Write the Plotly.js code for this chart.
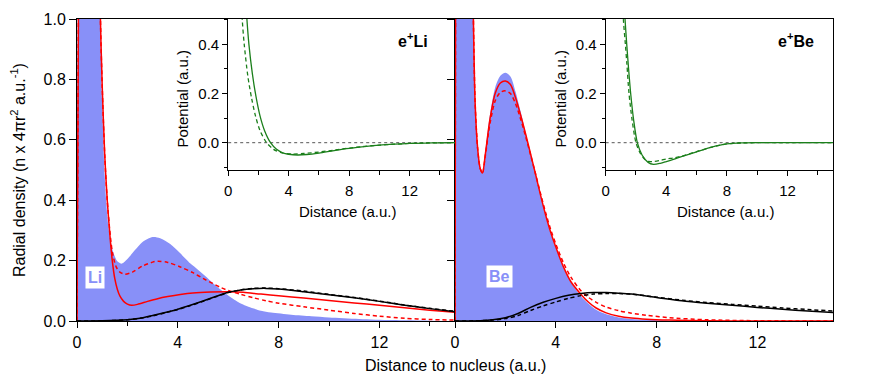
<!DOCTYPE html>
<html><head><meta charset="utf-8">
<script src="https://cdn.plot.ly/plotly-3.0.1.min.js"></script>
<style>html,body{margin:0;padding:0;background:#fff;} #chart{width:872px;height:376px;}</style>
</head><body><div id="chart"></div>
<script>
// ---- Li main panel (radial densities) ----
const rLiFill = [0, 0.02, 0.04, 0.1, 0.2, 0.35, 0.5, 0.7, 0.85, 0.92, 1.0, 1.1, 1.2, 1.3, 1.45, 1.6, 1.78, 2.0, 2.3, 2.6, 3.0, 3.3, 3.7, 4.1, 4.5, 4.8, 5.1, 5.4, 5.8, 6.1, 6.5, 6.8, 7.3, 7.7, 8.5, 9.3, 10, 11.2, 12.5, 14, 15];
const liFill  = [0, 0.6, 1.3, 3.0, 4.6, 5.0, 4.2, 2.6, 1.45, 1.0, 0.72, 0.48, 0.35, 0.28, 0.225, 0.198, 0.19, 0.205, 0.235, 0.262, 0.278, 0.274, 0.255, 0.224, 0.19, 0.17, 0.148, 0.125, 0.097, 0.079, 0.058, 0.047, 0.034, 0.028, 0.021, 0.016, 0.012, 0.007, 0.003, 0.001, 0];

const rLiRed = [0, 0.03, 0.06, 0.1, 0.2, 0.35, 0.5, 0.7, 0.85, 0.93, 1.0, 1.1, 1.2, 1.3, 1.4, 1.5, 1.6, 1.7, 1.85, 2.0, 2.17, 2.4, 2.8, 3.2, 3.6, 4.1, 4.6, 5.3, 6.0, 6.6, 7.3, 8.0, 9.0, 10, 11, 12, 13, 14, 15];
const liRed  = [0, 0.55, 1.1, 2.6, 4.4, 4.9, 4.1, 2.6, 1.5, 1.0, 0.78, 0.55, 0.4, 0.29, 0.2, 0.14, 0.105, 0.083, 0.065, 0.056, 0.052, 0.055, 0.065, 0.074, 0.081, 0.088, 0.093, 0.096, 0.097, 0.095, 0.089, 0.084, 0.076, 0.068, 0.06, 0.052, 0.044, 0.036, 0.029];

const rLiRedD = [0, 0.03, 0.06, 0.1, 0.2, 0.35, 0.5, 0.7, 0.85, 0.93, 1.0, 1.1, 1.2, 1.3, 1.4, 1.55, 1.7, 1.9, 2.2, 2.6, 3.0, 3.2, 3.6, 4.1, 4.6, 5.0, 5.7, 6.0, 6.5, 7.0, 7.5, 8, 9, 10, 11, 12, 13, 14, 15];
const liRedD  = [0, 0.55, 1.1, 2.6, 4.4, 4.9, 4.1, 2.6, 1.5, 1.0, 0.78, 0.55, 0.4, 0.3, 0.23, 0.18, 0.162, 0.155, 0.162, 0.182, 0.195, 0.198, 0.194, 0.179, 0.16, 0.141, 0.111, 0.101, 0.088, 0.077, 0.067, 0.059, 0.047, 0.036, 0.025, 0.016, 0.009, 0.005, 0.003];

const rLiPos = [0, 1, 2, 2.5, 3, 3.5, 4, 4.5, 5, 5.5, 6, 6.5, 7, 7.5, 8, 9, 10, 11, 12, 13, 14, 15];
const liPos  = [0, 0.0005, 0.004, 0.009, 0.018, 0.028, 0.039, 0.052, 0.066, 0.081, 0.095, 0.103, 0.107, 0.108, 0.106, 0.097, 0.087, 0.077, 0.065, 0.052, 0.041, 0.031];
const liPosD = [0, 0.0005, 0.004, 0.009, 0.017, 0.027, 0.038, 0.051, 0.065, 0.08, 0.094, 0.103, 0.108, 0.109, 0.107, 0.099, 0.088, 0.078, 0.066, 0.053, 0.042, 0.032];

// ---- Be main panel ----
const rBe = [0, 0.015, 0.03, 0.1, 0.25, 0.45, 0.6, 0.68, 0.73, 0.8, 0.9, 1.0, 1.09, 1.2, 1.39, 1.6, 1.8, 2.0, 2.2, 2.4, 2.6, 2.8, 3.0, 3.2, 3.4, 3.6, 3.8, 4.0, 4.3, 4.6, 5.0, 5.3, 5.6, 6.0, 6.5, 7.0, 7.6, 8.5, 10, 12, 15];
const beFill = [0, 0.6, 1.4, 4, 6.5, 4, 2.0, 1.35, 1.0, 0.72, 0.57, 0.51, 0.494, 0.56, 0.685, 0.775, 0.812, 0.822, 0.81, 0.76, 0.695, 0.625, 0.553, 0.482, 0.412, 0.348, 0.29, 0.243, 0.178, 0.128, 0.082, 0.057, 0.037, 0.022, 0.012, 0.007, 0.004, 0.001, 0, 0, 0];
const beRed  = [0, 0.7, 1.5, 4, 6.5, 4, 2.0, 1.35, 1.0, 0.72, 0.57, 0.505, 0.49, 0.55, 0.67, 0.755, 0.788, 0.795, 0.783, 0.74, 0.683, 0.62, 0.553, 0.485, 0.415, 0.35, 0.293, 0.245, 0.18, 0.13, 0.088, 0.062, 0.043, 0.027, 0.016, 0.01, 0.006, 0.003, 0.001, 0, 0];
const beRedD = [0, 0.7, 1.5, 4, 6.5, 4, 2.0, 1.35, 1.0, 0.72, 0.57, 0.505, 0.49, 0.545, 0.655, 0.73, 0.757, 0.762, 0.753, 0.72, 0.67, 0.612, 0.55, 0.486, 0.42, 0.358, 0.302, 0.255, 0.193, 0.145, 0.1, 0.078, 0.062, 0.046, 0.034, 0.026, 0.019, 0.011, 0.004, 0.001, 0];

const rBePos = [0, 1, 1.5, 2, 2.5, 3, 3.5, 4, 4.5, 5, 5.5, 6, 6.5, 7, 8, 9, 10, 11, 12, 13, 14, 15];
const bePos  = [0, 0.001, 0.004, 0.011, 0.025, 0.045, 0.062, 0.075, 0.085, 0.091, 0.094, 0.094, 0.092, 0.089, 0.078, 0.067, 0.059, 0.052, 0.045, 0.039, 0.033, 0.028];
const bePosD = [0, 0.001, 0.003, 0.008, 0.018, 0.035, 0.05, 0.063, 0.075, 0.084, 0.089, 0.091, 0.091, 0.089, 0.079, 0.069, 0.061, 0.055, 0.049, 0.043, 0.038, 0.033];

// ---- insets: potentials ----
const rLiV  = [0.8, 1.0, 1.24, 1.37, 1.6, 1.83, 2.1, 2.4, 2.8, 3.2, 3.6, 4.0, 4.6, 5.2, 6.0, 7.0, 8.0, 9.0, 10, 11, 12, 13, 14, 15];
const liV   = [1.2, 0.75, 0.5, 0.4, 0.28, 0.19, 0.11, 0.05, 0.0, -0.027, -0.041, -0.047, -0.050, -0.048, -0.042, -0.032, -0.023, -0.016, -0.010, -0.006, -0.003, -0.0015, -0.0005, 0];
const rLiVD = [0.6, 0.8, 0.93, 1.06, 1.3, 1.55, 1.8, 2.1, 2.54, 3.0, 3.5, 4.2, 5.0, 6.0, 7.0, 8.0, 9.0, 10, 11, 12, 13, 14, 15];
const liVD  = [1.0, 0.68, 0.5, 0.4, 0.27, 0.18, 0.11, 0.05, 0.0, -0.027, -0.040, -0.046, -0.044, -0.038, -0.030, -0.022, -0.015, -0.010, -0.006, -0.003, -0.0015, -0.0005, 0];

const rBeV  = [0.9, 1.1, 1.28, 1.39, 1.5, 1.65, 1.85, 2.09, 2.4, 2.8, 3.15, 3.6, 4.0, 4.47, 5.0, 6.0, 7.0, 8.0, 9.0, 10, 12, 15];
const beV   = [1.1, 0.7, 0.5, 0.4, 0.31, 0.2, 0.09, 0.0, -0.05, -0.08, -0.088, -0.084, -0.077, -0.068, -0.057, -0.037, -0.018, -0.005, -0.001, 0, 0, 0];
const rBeVD = [0.8, 1.0, 1.17, 1.3, 1.4, 1.54, 1.75, 2.0, 2.3, 2.6, 2.82, 3.2, 3.6, 4.0, 4.47, 5.0, 6.0, 7.0, 8.0, 9.0, 10, 12, 15];
const beVD  = [1.1, 0.7, 0.5, 0.4, 0.32, 0.2, 0.09, 0.0, -0.045, -0.068, -0.076, -0.076, -0.072, -0.066, -0.062, -0.055, -0.036, -0.018, -0.005, -0.001, 0, 0, 0];

const FILL = '#8890f8', RED = '#ff0000', GREEN = '#1b7f1b';
const FONT = 'Liberation Sans, Arial, sans-serif';
const DASH = '4px,3px';

function ln(x, y, xa, ya, color, dash, fill) {
  const t = {x: x, y: y, xaxis: xa, yaxis: ya, type: 'scatter', mode: 'lines', hoverinfo: 'skip',
    line: {color: color, width: fill ? 0 : (color === GREEN ? 1.3 : 1.5), dash: dash || 'solid', shape: 'spline', smoothing: 0.8}};
  if (fill) { t.fill = 'tozeroy'; t.fillcolor = FILL; }
  return t;
}
const data = [
  ln(rLiFill, liFill, 'x', 'y', FILL, null, true),
  ln(rLiRedD, liRedD, 'x', 'y', RED, DASH),
  ln(rLiRed, liRed, 'x', 'y', RED),
  ln(rLiPos, liPosD, 'x', 'y', 'black', DASH),
  ln(rLiPos, liPos, 'x', 'y', 'black'),
  ln(rBe, beFill, 'x2', 'y2', FILL, null, true),
  ln(rBe, beRedD, 'x2', 'y2', RED, DASH),
  ln(rBe, beRed, 'x2', 'y2', RED),
  ln(rBePos, bePosD, 'x2', 'y2', 'black', DASH),
  ln(rBePos, bePos, 'x2', 'y2', 'black'),
  ln(rLiVD, liVD, 'x3', 'y3', GREEN, DASH),
  ln(rLiV, liV, 'x3', 'y3', GREEN),
  ln(rBeVD, beVD, 'x4', 'y4', GREEN, DASH),
  ln(rBeV, beV, 'x4', 'y4', GREEN)
];

function xAx(domain, anchor, inset) {
  return {domain: domain, anchor: anchor, range: [0, 15], tick0: 0, dtick: 4, ticks: 'outside', ticklen: inset ? 5 : 6,
    tickcolor: 'black', tickwidth: 1, showline: true, linecolor: 'black', linewidth: 1, mirror: !inset,
    showgrid: false, zeroline: false, tickfont: {size: inset ? 15 : 16, color: 'black'}, ticklabelstandoff: inset ? 2 : 1,
    minor: {tick0: 0, dtick: 2, ticks: 'outside', ticklen: 4, tickcolor: 'black', showgrid: false}};
}
function yInset(anchor) {
  return {domain: [0.5, 1], anchor: anchor, range: [-0.111, 0.503], tick0: 0, dtick: 0.2, tickformat: '.1f', ticks: 'outside', ticklen: 5,
    tickcolor: 'black', showline: true, linecolor: 'black', linewidth: 1, showgrid: false, zeroline: false, tickfont: {size: 15},
    minor: {tick0: 0, dtick: 0.1, ticks: 'outside', ticklen: 3, tickcolor: 'black', showgrid: false}};
}
const layout = {
  width: 872, height: 376, margin: {l: 77, r: 39, t: 19, b: 55}, showlegend: false,
  paper_bgcolor: 'white', plot_bgcolor: 'rgba(0,0,0,0)', font: {family: FONT, size: 16, color: 'black'},
  xaxis: xAx([0, 0.5], 'y', false),
  xaxis2: xAx([0.5, 1], 'y2', false),
  xaxis3: xAx([0.2, 0.5], 'y3', true),
  xaxis4: xAx([0.6993, 1], 'y4', true),
  yaxis: {domain: [0, 1], anchor: 'x', range: [0, 1], dtick: 0.2, tickformat: '.1f', ticks: 'outside', ticklen: 7,
    tickcolor: 'black', showline: true, linecolor: 'black', linewidth: 1, mirror: true, showgrid: false, zeroline: false,
    tickfont: {size: 16}},
  yaxis2: {domain: [0, 1], anchor: 'x2', range: [0, 1], dtick: 0.2, showticklabels: false, ticks: 'outside', ticklen: 7,
    tickcolor: 'black', showline: true, linecolor: 'black', linewidth: 1, mirror: true, showgrid: false, zeroline: false},
  yaxis3: yInset('x3'),
  yaxis4: yInset('x4'),
  shapes: [
    {type: 'line', xref: 'x3 domain', yref: 'y3', x0: 0, x1: 1, y0: 0, y1: 0, line: {color: '#555', width: 1, dash: 'dot'}, layer: 'below'},
    {type: 'line', xref: 'x4 domain', yref: 'y4', x0: 0, x1: 1, y0: 0, y1: 0, line: {color: '#555', width: 1, dash: 'dot'}, layer: 'below'}
  ],
  annotations: [
    {text: 'Radial density (n x 4πr<sup>2</sup> a.u.<sup>-1</sup>)', xref: 'paper', yref: 'paper', x: -0.078, y: 0.5,
      textangle: -90, showarrow: false, xanchor: 'center', yanchor: 'middle', font: {size: 16}},
    {text: 'Distance to nucleus (a.u.)', xref: 'paper', yref: 'paper', x: 0.5, y: -0.149, showarrow: false,
      xanchor: 'center', yanchor: 'middle', font: {size: 16}},
    {text: 'Potential (a.u.)', xref: 'paper', yref: 'paper', x: 0.139, y: 0.737, textangle: -90, showarrow: false,
      xanchor: 'center', yanchor: 'middle', font: {size: 15}},
    {text: 'Potential (a.u.)', xref: 'paper', yref: 'paper', x: 0.639, y: 0.737, textangle: -90, showarrow: false,
      xanchor: 'center', yanchor: 'middle', font: {size: 15}},
    {text: 'Distance (a.u.)', xref: 'paper', yref: 'paper', x: 0.3585, y: 0.364, showarrow: false,
      xanchor: 'center', yanchor: 'middle', font: {size: 15}},
    {text: 'Distance (a.u.)', xref: 'paper', yref: 'paper', x: 0.8582, y: 0.364, showarrow: false,
      xanchor: 'center', yanchor: 'middle', font: {size: 15}},
    {text: '<b>e<sup>+</sup>Li</b>', xref: 'paper', yref: 'paper', x: 0.4438, y: 0.93, showarrow: false,
      xanchor: 'center', yanchor: 'middle', font: {size: 16}},
    {text: '<b>e<sup>+</sup>Be</b>', xref: 'paper', yref: 'paper', x: 0.9517, y: 0.93, showarrow: false,
      xanchor: 'center', yanchor: 'middle', font: {size: 16}},
    {text: '<b>Li</b>', xref: 'paper', yref: 'paper', x: 0.0242, y: 0.144, showarrow: false, bgcolor: 'white', borderpad: 2,
      xanchor: 'center', yanchor: 'middle', font: {size: 16, color: FILL}},
    {text: '<b>Be</b>', xref: 'paper', yref: 'paper', x: 0.5595, y: 0.1457, showarrow: false, bgcolor: 'white', borderpad: 2,
      xanchor: 'center', yanchor: 'middle', font: {size: 16, color: FILL}}
  ]
};
Plotly.newPlot('chart', data, layout, {displayModeBar: false, staticPlot: true});
</script></body></html>
